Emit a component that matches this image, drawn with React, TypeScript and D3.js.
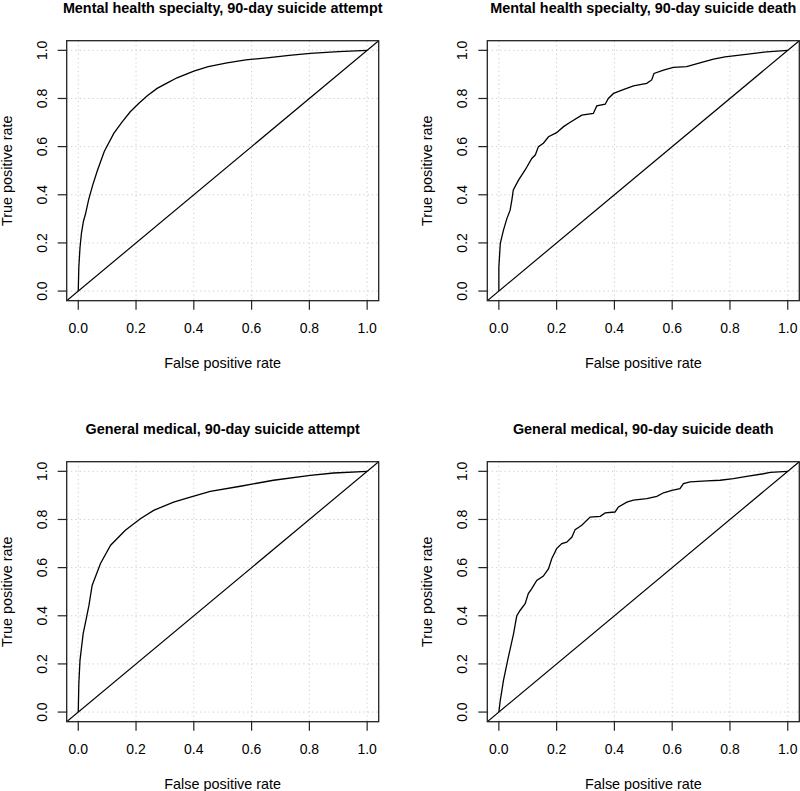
import React from 'react';
import * as d3 from 'd3';

// ROC points: [false positive rate, true positive rate]
const mhAttempt: [number, number][] = [
  [0, 0], [0.002, 0.1], [0.006, 0.18], [0.011, 0.24], [0.018, 0.29], [0.025, 0.32],
  [0.036, 0.38], [0.05, 0.44], [0.066, 0.5], [0.09, 0.58], [0.123, 0.655], [0.152, 0.703],
  [0.18, 0.745], [0.21, 0.78], [0.24, 0.812], [0.273, 0.842], [0.31, 0.866], [0.342, 0.886],
  [0.4, 0.914], [0.45, 0.932], [0.515, 0.948], [0.58, 0.96], [0.653, 0.969], [0.73, 0.979],
  [0.803, 0.987], [0.9, 0.995], [1, 1],
];

const mhDeath: [number, number][] = [
  [0, 0], [0, 0.1], [0.005, 0.198], [0.016, 0.253], [0.028, 0.302], [0.039, 0.336],
  [0.045, 0.378], [0.05, 0.42], [0.068, 0.461], [0.091, 0.503], [0.114, 0.551], [0.126, 0.565],
  [0.137, 0.6], [0.154, 0.614], [0.172, 0.641], [0.2, 0.658], [0.224, 0.683], [0.247, 0.701],
  [0.287, 0.731], [0.327, 0.738], [0.339, 0.769], [0.368, 0.776], [0.379, 0.8], [0.397, 0.821],
  [0.426, 0.835], [0.466, 0.852], [0.512, 0.863], [0.529, 0.877], [0.537, 0.904], [0.57, 0.918],
  [0.604, 0.929], [0.65, 0.932], [0.702, 0.95], [0.743, 0.963], [0.783, 0.973], [0.87, 0.985],
  [0.927, 0.994], [1, 1],
];

const gmAttempt: [number, number][] = [
  [0, 0], [0.002, 0.118], [0.006, 0.215], [0.017, 0.326], [0.029, 0.395], [0.037, 0.443],
  [0.048, 0.526], [0.077, 0.617], [0.112, 0.693], [0.163, 0.755], [0.215, 0.803], [0.261, 0.838],
  [0.33, 0.872], [0.388, 0.893], [0.457, 0.917], [0.561, 0.938], [0.676, 0.963], [0.803, 0.983],
  [0.884, 0.993], [1, 1],
];

const gmDeath: [number, number][] = [
  [0, 0], [0.005, 0.049], [0.016, 0.132], [0.033, 0.229], [0.051, 0.326], [0.056, 0.36],
  [0.062, 0.4], [0.074, 0.423], [0.091, 0.45], [0.102, 0.492], [0.114, 0.513], [0.131, 0.547],
  [0.154, 0.565], [0.172, 0.596], [0.183, 0.637], [0.2, 0.679], [0.218, 0.7], [0.235, 0.706],
  [0.253, 0.727], [0.264, 0.758], [0.287, 0.776], [0.316, 0.81], [0.351, 0.813], [0.368, 0.827],
  [0.402, 0.831], [0.414, 0.852], [0.443, 0.872], [0.466, 0.88], [0.512, 0.887], [0.547, 0.896],
  [0.57, 0.911], [0.599, 0.921], [0.627, 0.928], [0.639, 0.949], [0.662, 0.956], [0.72, 0.96],
  [0.766, 0.963], [0.812, 0.97], [0.858, 0.979], [0.916, 0.99], [0.939, 0.996], [1, 1],
];

const titles = [
  'Mental health specialty, 90-day suicide attempt',
  'Mental health specialty, 90-day suicide death',
  'General medical, 90-day suicide attempt',
  'General medical, 90-day suicide death',
];
const series = [mhAttempt, mhDeath, gmAttempt, gmDeath];
const ticks = [0, 0.2, 0.4, 0.6, 0.8, 1.0];
const xLabel = 'False positive rate';
const yLabel = 'True positive rate';

const W = 800;
const H = 791;
const boxW = 312;
const boxH = 260;
const lefts = [66.7, 487.3];
const tops = [40.7, 461.7];
const font = '"Liberation Sans", Arial, Helvetica, sans-serif';

const Panel = ({ idx }: { idx: number }) => {
  const left = lefts[idx % 2];
  const top = tops[Math.floor(idx / 2)];
  const x = d3.scaleLinear().domain([-0.04, 1.04]).range([left, left + boxW]);
  const y = d3.scaleLinear().domain([-0.04, 1.04]).range([top + boxH, top]);
  const line = d3.line<[number, number]>().x(d => x(d[0])).y(d => y(d[1]));
  const clipId = `clip${idx}`;
  const cx = left + boxW / 2;

  return (
    <g>
      <defs>
        <clipPath id={clipId}>
          <rect x={left} y={top} width={boxW} height={boxH} />
        </clipPath>
      </defs>
      <text x={cx} y={top - 28} textAnchor="middle" fontWeight="bold" fontSize={14.4} fontFamily={font}>
        {titles[idx]}
      </text>
      {/* grid */}
      {ticks.map(t => (
        <g key={'g' + t}>
          <line x1={x(t)} x2={x(t)} y1={top} y2={top + boxH} stroke="#cfcfcf" strokeDasharray="1.3,3" />
          <line x1={left} x2={left + boxW} y1={y(t)} y2={y(t)} stroke="#cfcfcf" strokeDasharray="1.3,3" />
        </g>
      ))}
      <g clipPath={`url(#${clipId})`}>
        <line x1={x(-0.04)} y1={y(-0.04)} x2={x(1.04)} y2={y(1.04)} stroke="#000" strokeWidth={1.2} />
        <path d={line(series[idx]) || ''} fill="none" stroke="#000" strokeWidth={1.3} />
      </g>
      <rect x={left} y={top} width={boxW} height={boxH} fill="none" stroke="#222" strokeWidth={1.3} />
      {/* x axis */}
      {ticks.map(t => (
        <g key={'x' + t}>
          <line x1={x(t)} x2={x(t)} y1={top + boxH} y2={top + boxH + 9} stroke="#222" strokeWidth={1.2} />
          <text x={x(t)} y={top + boxH + 32} textAnchor="middle" fontSize={14} fontFamily={font}>
            {t.toFixed(1)}
          </text>
        </g>
      ))}
      {/* y axis */}
      {ticks.map(t => (
        <g key={'y' + t}>
          <line x1={left} x2={left - 9} y1={y(t)} y2={y(t)} stroke="#222" strokeWidth={1.2} />
          <text
            transform={`translate(${left - 20},${y(t)}) rotate(-90)`}
            textAnchor="middle"
            fontSize={14}
            fontFamily={font}
          >
            {t.toFixed(1)}
          </text>
        </g>
      ))}
      <text x={cx} y={top + boxH + 67} textAnchor="middle" fontSize={14.4} fontFamily={font}>
        {xLabel}
      </text>
      <text
        transform={`translate(${left - 55},${top + boxH / 2}) rotate(-90)`}
        textAnchor="middle"
        fontSize={14.4}
        fontFamily={font}
      >
        {yLabel}
      </text>
    </g>
  );
};

export default function App() {
  return (
    <svg
      width={W}
      height={H}
      style={{ position: 'absolute', left: 0, top: 0, background: '#fff' }}
    >
      <rect width={W} height={H} fill="#fff" />
      {[0, 1, 2, 3].map(i => (
        <Panel key={i} idx={i} />
      ))}
    </svg>
  );
}
